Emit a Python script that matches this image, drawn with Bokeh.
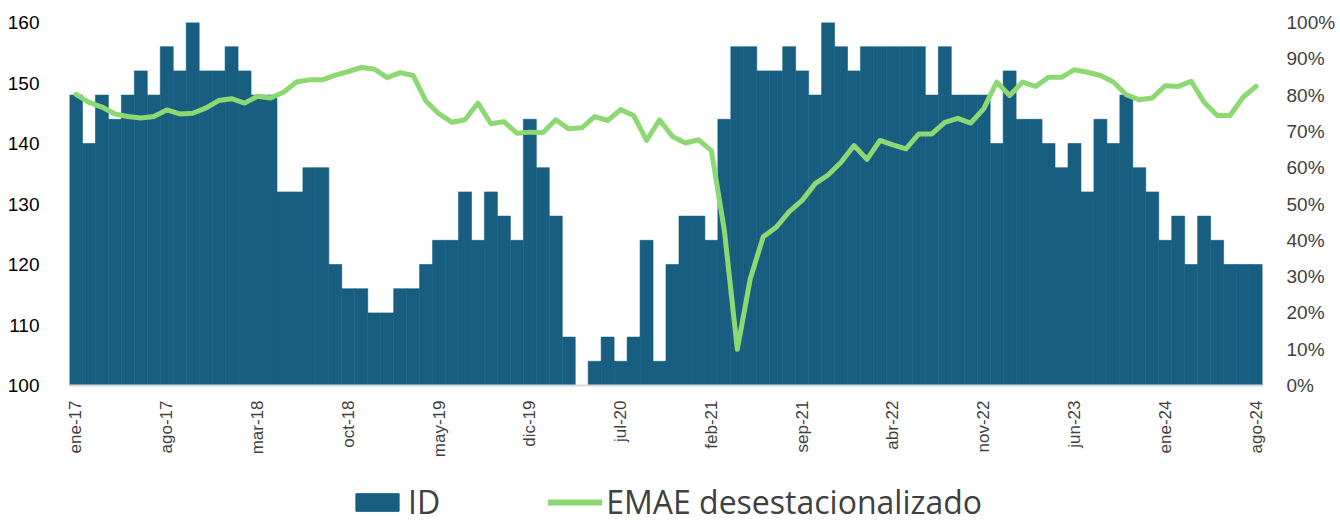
import math
from bokeh.plotting import figure
from bokeh.layouts import column
from bokeh.models import (Range1d, LinearAxis, FixedTicker, Legend, LegendItem,
                          ColumnDataSource, PrintfTickFormatter)
from bokeh.embed import file_html
from bokeh.resources import INLINE

months = [
    "ene-17", "feb-17", "mar-17", "abr-17", "may-17", "jun-17", "jul-17", "ago-17", "sep-17", "oct-17", "nov-17", "dic-17",
    "ene-18", "feb-18", "mar-18", "abr-18", "may-18", "jun-18", "jul-18", "ago-18", "sep-18", "oct-18", "nov-18", "dic-18",
    "ene-19", "feb-19", "mar-19", "abr-19", "may-19", "jun-19", "jul-19", "ago-19", "sep-19", "oct-19", "nov-19", "dic-19",
    "ene-20", "feb-20", "mar-20", "abr-20", "may-20", "jun-20", "jul-20", "ago-20", "sep-20", "oct-20", "nov-20", "dic-20",
    "ene-21", "feb-21", "mar-21", "abr-21", "may-21", "jun-21", "jul-21", "ago-21", "sep-21", "oct-21", "nov-21", "dic-21",
    "ene-22", "feb-22", "mar-22", "abr-22", "may-22", "jun-22", "jul-22", "ago-22", "sep-22", "oct-22", "nov-22", "dic-22",
    "ene-23", "feb-23", "mar-23", "abr-23", "may-23", "jun-23", "jul-23", "ago-23", "sep-23", "oct-23", "nov-23", "dic-23",
    "ene-24", "feb-24", "mar-24", "abr-24", "may-24", "jun-24", "jul-24", "ago-24",
]

id_values = [
    148, 140, 148, 144, 148, 152, 148, 156, 152, 160, 152, 152,
    156, 152, 148, 148, 132, 132, 136, 136, 120, 116, 116, 112,
    112, 116, 116, 120, 124, 124, 132, 124, 132, 128, 124, 144,
    136, 128, 108, 100, 104, 108, 104, 108, 124, 104, 120, 128,
    128, 124, 144, 156, 156, 152, 152, 156, 152, 148, 160, 156,
    152, 156, 156, 156, 156, 156, 148, 156, 148, 148, 148, 140,
    152, 144, 144, 140, 136, 140, 132, 144, 140, 148, 136, 132,
    124, 128, 120, 128, 124, 120, 120, 120,
]

emae_pct = [
    80.2, 78.0, 76.7, 74.8, 74.1, 73.7, 74.1, 75.9, 74.8, 75.0, 76.4, 78.5,
    79.0, 77.8, 79.7, 79.2, 80.8, 83.6, 84.2, 84.2, 85.5, 86.5, 87.6, 87.2,
    84.8, 86.2, 85.4, 78.3, 74.8, 72.5, 73.2, 77.8, 72.1, 72.7, 69.5, 69.8,
    69.6, 73.2, 70.7, 71.0, 74.1, 73.0, 76.0, 74.4, 67.5, 73.2, 68.6, 66.8,
    67.7, 64.7, 42.7, 10.0, 29.4, 41.0, 43.6, 47.9, 51.0, 55.6, 58.0, 61.5,
    66.1, 62.3, 67.5, 66.3, 65.2, 69.3, 69.3, 72.5, 73.6, 72.3, 76.2, 83.6,
    79.9, 83.6, 82.4, 84.9, 84.9, 87.0, 86.3, 85.4, 83.6, 80.1, 78.7, 79.2,
    82.6, 82.4, 83.8, 78.0, 74.4, 74.4, 79.4, 82.4,
]

tick_labels = ["ene-17", "ago-17", "mar-18", "oct-18", "may-19", "dic-19", "jul-20",
               "feb-21", "sep-21", "abr-22", "nov-22", "jun-23", "ene-24", "ago-24"]
left_ticks = [100, 110, 120, 130, 140, 150, 160]
right_ticks = [0, 10, 20, 30, 40, 50, 60, 70, 80, 90, 100]

BLUE = "#175E80"
GREEN = "#8CD872"
W = 1338

xs = list(range(len(months)))
src = ColumnDataSource(dict(x=xs, idv=id_values, emae=emae_pct, m=months))

p = figure(width=W, height=468,
           x_range=Range1d(-0.5, len(months) - 0.5),
           y_range=Range1d(100, 160),
           output_backend="svg", toolbar_location=None,
           min_border_left=69, min_border_right=W - 1267, min_border_top=22, min_border_bottom=83)
p.extra_y_ranges = {"pct": Range1d(0, 100)}
p.outline_line_color = None
p.xgrid.visible = False
p.ygrid.visible = False

bars = p.vbar(x="x", top="idv", bottom=100, width=1.0, source=src,
              fill_color=BLUE, line_color=BLUE, line_width=0.6)
line = p.line(x="x", y="emae", y_range_name="pct", source=src,
              line_color=GREEN, line_width=5, line_join="round", line_cap="round")

# bottom axis
xa = p.xaxis[0]
tick_pos = [months.index(t) for t in tick_labels]
xa.ticker = FixedTicker(ticks=tick_pos)
xa.major_label_overrides = {pos: lab for pos, lab in zip(tick_pos, tick_labels)}
xa.major_label_orientation = math.pi / 2
xa.major_label_text_font = "Liberation Sans"
xa.major_label_text_font_size = "17px"
xa.major_label_text_color = "#404040"
xa.axis_line_color = "#d9d9d9"
xa.axis_line_width = 2
xa.major_tick_line_color = None
xa.minor_tick_line_color = None
xa.major_label_standoff = 9

# left axis
ya = p.yaxis[0]
ya.ticker = FixedTicker(ticks=left_ticks)
ya.major_label_text_font = "Liberation Sans"
ya.major_label_text_font_size = "19px"
ya.major_label_text_color = "#000000"
ya.axis_line_color = None
ya.major_tick_line_color = None
ya.minor_tick_line_color = None
ya.major_label_standoff = 24

# right axis
ra = LinearAxis(y_range_name="pct", ticker=FixedTicker(ticks=right_ticks),
                formatter=PrintfTickFormatter(format="%d%%"))
ra.major_label_text_font = "Liberation Sans"
ra.major_label_text_font_size = "19px"
ra.major_label_text_color = "#404040"
ra.axis_line_color = None
ra.major_tick_line_color = None
ra.minor_tick_line_color = None
ra.major_label_standoff = 18
p.add_layout(ra, "right")

# legend strip (its frame is aligned with the main frame by the column layout)
q = figure(width=W, height=55, x_range=Range1d(0, 1), y_range=Range1d(0, 1),
           output_backend="svg", toolbar_location=None,
           x_axis_location=None, y_axis_location=None, min_border=0)
q.outline_line_color = None
q.xgrid.visible = False
q.ygrid.visible = False
nan = float("nan")
dummy = ColumnDataSource(dict(x=[nan], y=[nan]))
lg_bar = q.vbar(x="x", top="y", width=1, source=dummy, fill_color=BLUE, line_color=BLUE)
lg_line = q.line(x="x", y="y", source=dummy, line_color=GREEN, line_width=6, line_cap="round")

legend = Legend(items=[LegendItem(label="ID", renderers=[lg_bar]),
                       LegendItem(label="EMAE desestacionalizado", renderers=[lg_line])],
                orientation="horizontal", location=(281, 0),
                label_text_font="Open Sans", label_text_font_size="32px",
                label_text_color="#404040",
                glyph_width=54, glyph_height=22, label_standoff=4, spacing=108,
                border_line_color=None, background_fill_alpha=0,
                padding=0, margin=0)
q.add_layout(legend, "center")

open("out.html", "w").write(file_html(column(p, q), INLINE))
